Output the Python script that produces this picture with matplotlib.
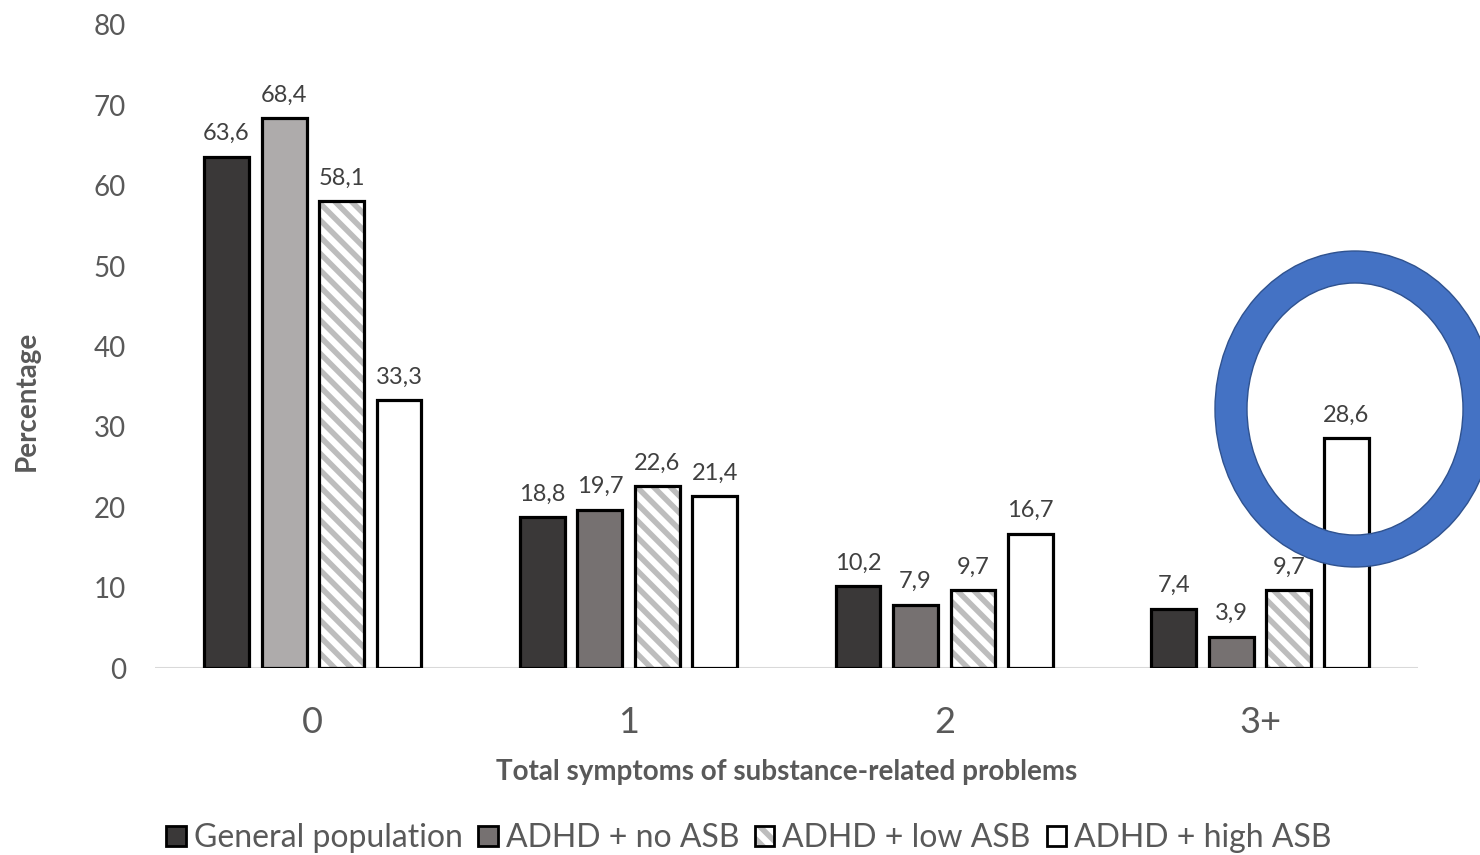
import matplotlib
matplotlib.use('Agg')
import matplotlib.pyplot as plt
from matplotlib.patches import Patch, Ellipse
import numpy as np

plt.rcParams['font.family'] = ['Lato', 'DejaVu Sans']
plt.rcParams['hatch.linewidth'] = 4.0

groups = ['0', '1', '2', '3+']
series = ['General population', 'ADHD + no ASB', 'ADHD + low ASB', 'ADHD + high ASB']
general = [63.6, 18.8, 10.2, 7.4]
no_asb = [68.4, 19.7, 7.9, 3.9]
low_asb = [58.1, 22.6, 9.7, 9.7]
high_asb = [33.3, 21.4, 16.7, 28.6]

no_asb_colors = ['#aeabab', '#767171', '#767171', '#767171']

fig = plt.figure(figsize=(14.8, 8.55), dpi=100)
ax = fig.add_axes([0.1047, 0.2187, 0.8533, 0.7521])

x = np.arange(len(groups))
step = 0.182
w = 0.142
edge = dict(edgecolor='black', linewidth=2.3)

ax.bar(x - 1.5 * step, general, w, color='#3a3838', **edge)
ax.bar(x - 0.5 * step, no_asb, w, color=no_asb_colors, **edge)
# hatched bars: gray hatch first, black outline on top
ax.bar(x + 0.5 * step, low_asb, w, color='white', hatch='\\\\', edgecolor='#bdbdbd', linewidth=0)
ax.bar(x + 0.5 * step, low_asb, w, fill=False, **edge)
ax.bar(x + 1.5 * step, high_asb, w, color='white', **edge)

for off, vals in zip([-1.5, -0.5, 0.5, 1.5], [general, no_asb, low_asb, high_asb]):
    for xi, v in zip(x, vals):
        ax.annotate(f'{v:.1f}'.replace('.', ','), (xi + off * step, v),
                    xytext=(0, 9), textcoords='offset points',
                    ha='center', va='bottom', fontsize=17, color='#404040')

ax.axhline(0, color='#d9d9d9', lw=1.5, zorder=0)
ax.set_xlim(-0.5, 3.5)
ax.set_ylim(0, 80)
ax.set_yticks(range(0, 81, 10))
ax.set_xticks(x)
ax.set_xticklabels(groups)
for s in ax.spines.values():
    s.set_visible(False)
ax.tick_params(axis='y', length=0, pad=21, labelsize=20, labelcolor='#595959')
ax.tick_params(axis='x', length=0, pad=27, labelsize=26, labelcolor='#595959')
ax.set_ylabel('Percentage', fontsize=20, fontweight='bold', color='#595959')
ax.yaxis.set_label_coords(-0.091, 0.415)
ax.set_xlabel('Total symptoms of substance-related problems', fontsize=20,
              fontweight='bold', color='#595959')
ax.xaxis.set_label_coords(0.5, -0.141)

handles = [
    Patch(facecolor='#3a3838', edgecolor='black', linewidth=2),
    Patch(facecolor='#767171', edgecolor='black', linewidth=2),
    (Patch(facecolor='white', hatch='\\\\', edgecolor='#bdbdbd', linewidth=0),
     Patch(fill=False, edgecolor='black', linewidth=2)),
    Patch(facecolor='white', edgecolor='black', linewidth=2),
]
leg = fig.legend(handles, series, loc='center', bbox_to_anchor=(0.506, 1 - 838 / 855),
                 ncol=4, frameon=False, fontsize=23, handlelength=0.6, handleheight=0.6,
                 handletextpad=0.25, columnspacing=0.5, labelcolor='#595959',
                 borderpad=0, borderaxespad=0)

# blue highlight ring
cx, cy = 1355 / 1480, 1 - 409 / 855
fig.add_artist(Ellipse((cx, cy), 248 / 1480, 284 / 855, transform=fig.transFigure,
                       fill=False, edgecolor='#4472c4', linewidth=23, zorder=5))
fig.add_artist(Ellipse((cx, cy), 280 / 1480, 316 / 855, transform=fig.transFigure,
                       fill=False, edgecolor='#2f528f', linewidth=1, zorder=6))
fig.add_artist(Ellipse((cx, cy), 216 / 1480, 252 / 855, transform=fig.transFigure,
                       fill=False, edgecolor='#2f528f', linewidth=1, zorder=6))

fig.savefig('out.png', dpi=100)
